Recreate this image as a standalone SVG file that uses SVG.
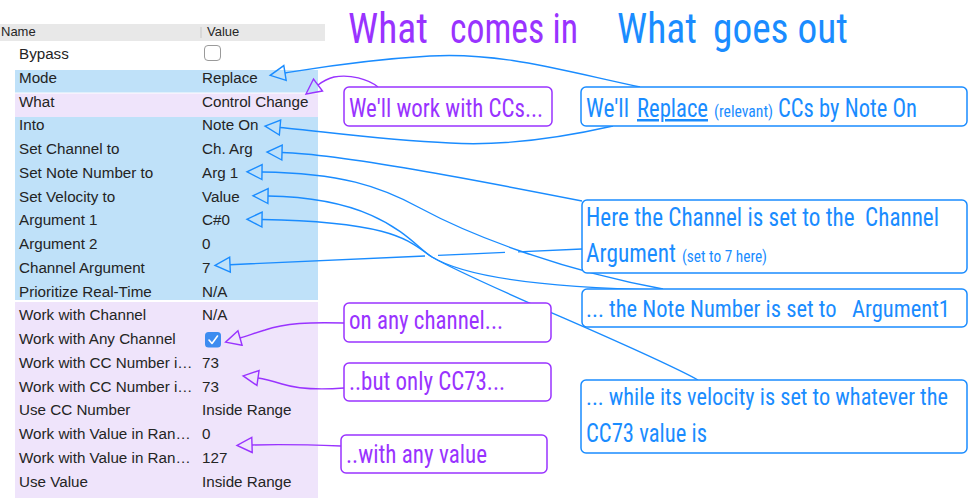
<svg xmlns="http://www.w3.org/2000/svg" width="968" height="500" viewBox="0 0 968 500">
<style>
.tn{font-family:"Liberation Sans",Arial,sans-serif;font-size:15.2px;fill:#242424}
.th{font-family:"Liberation Sans",Arial,sans-serif;font-size:13px;fill:#262626}
.cf{font-family:"Liberation Sans Narrow","Roboto Condensed","DejaVu Sans Condensed","DejaVu Sans",sans-serif;font-stretch:condensed}
.cb{fill:#1a8cff}
.cp{fill:#9933ff}
.bb{fill:#fff;stroke:#1a8cff;stroke-width:1.5}
.bp{fill:#fff;stroke:#9933ff;stroke-width:1.5}
.lb{fill:none;stroke:#1a8cff;stroke-width:1.4}
.lp{fill:none;stroke:#9933ff;stroke-width:1.4}
</style>
<defs>
<marker id="ab" markerUnits="userSpaceOnUse" markerWidth="24" markerHeight="24" viewBox="-2 -12 24 24" refX="0" refY="0" orient="auto" overflow="visible"><path d="M0,-7.5 L15,0 L0,7.5 Z" fill="none" stroke="#1a8cff" stroke-width="1.4"/></marker>
<marker id="ap" markerUnits="userSpaceOnUse" markerWidth="24" markerHeight="24" viewBox="-2 -12 24 24" refX="0" refY="0" orient="auto" overflow="visible"><path d="M0,-7.5 L15,0 L0,7.5 Z" fill="none" stroke="#9933ff" stroke-width="1.4"/></marker>
</defs>
<rect width="968" height="500" fill="#fff"/>

<g id="table">
<rect x="0" y="24" width="325" height="17" fill="#e8e8e8"/>
<line x1="201" y1="27" x2="201" y2="38" stroke="#c8c8c8" stroke-width="1"/>
<text class="th" x="1" y="36">Name</text>
<text class="th" x="207" y="36">Value</text>
<rect x="15" y="70" width="303" height="22.5" fill="#bfe1f9"/>
<rect x="15" y="93.5" width="303" height="23.5" fill="#efe4fb"/>
<rect x="15" y="117" width="303" height="183" fill="#bfe1f9"/>
<rect x="15" y="302" width="303" height="196" fill="#efe4fb"/>
<rect x="204.5" y="45.5" width="16" height="15" rx="3.5" fill="#fff" stroke="#9a9a9a" stroke-width="1"/>
<rect x="205" y="332" width="16" height="15.5" rx="3.5" fill="#3d8cf0"/>
<path d="M209,340 L212,343.5 L217.5,336" fill="none" stroke="#fff" stroke-width="1.6" stroke-linecap="round" stroke-linejoin="round"/>
<text class="tn" x="19" y="59">Bypass</text>
<text class="tn" x="19" y="82.75">Mode</text><text class="tn" x="202" y="82.75">Replace</text>
<text class="tn" x="19" y="106.5">What</text><text class="tn" x="202" y="106.5">Control Change</text>
<text class="tn" x="19" y="130.25">Into</text><text class="tn" x="202" y="130.25">Note On</text>
<text class="tn" x="19" y="154">Set Channel to</text><text class="tn" x="202" y="154">Ch. Arg</text>
<text class="tn" x="19" y="177.75">Set Note Number to</text><text class="tn" x="202" y="177.75">Arg 1</text>
<text class="tn" x="19" y="201.5">Set Velocity to</text><text class="tn" x="202" y="201.5">Value</text>
<text class="tn" x="19" y="225.25">Argument 1</text><text class="tn" x="202" y="225.25">C#0</text>
<text class="tn" x="19" y="249">Argument 2</text><text class="tn" x="202" y="249">0</text>
<text class="tn" x="19" y="272.75">Channel Argument</text><text class="tn" x="202" y="272.75">7</text>
<text class="tn" x="19" y="296.5">Prioritize Real-Time</text><text class="tn" x="202" y="296.5">N/A</text>
<text class="tn" x="19" y="320.25">Work with Channel</text><text class="tn" x="202" y="320.25">N/A</text>
<text class="tn" x="19" y="344">Work with Any Channel</text>
<text class="tn" x="19" y="367.75">Work with CC Number i…</text><text class="tn" x="202" y="367.75">73</text>
<text class="tn" x="19" y="391.5">Work with CC Number i…</text><text class="tn" x="202" y="391.5">73</text>
<text class="tn" x="19" y="415.25">Use CC Number</text><text class="tn" x="202" y="415.25">Inside Range</text>
<text class="tn" x="19" y="439">Work with Value in Ran…</text><text class="tn" x="202" y="439">0</text>
<text class="tn" x="19" y="462.75">Work with Value in Ran…</text><text class="tn" x="202" y="462.75">127</text>
<text class="tn" x="19" y="486.5">Use Value</text><text class="tn" x="202" y="486.5">Inside Range</text>
</g>

<g id="titles">
<text class="cf cp" x="348" y="43" font-size="42" textLength="80" lengthAdjust="spacingAndGlyphs">What</text>
<text class="cf cp" x="450" y="43" font-size="42" textLength="128" lengthAdjust="spacingAndGlyphs">comes in</text>
<text class="cf cb" x="617" y="43" font-size="42" textLength="80" lengthAdjust="spacingAndGlyphs">What</text>
<text class="cf cb" x="713" y="43" font-size="42" textLength="135" lengthAdjust="spacingAndGlyphs">goes out</text>
</g>

<g id="connectors">
<path class="lb" marker-end="url(#ab)" d="M640,87 C560,70 500,52 430,56 C360,60 310,69 285,73"/>
<path class="lb" marker-end="url(#ab)" d="M613,126 C560,138 500,146 450,143 C380,140 320,131 280,127.5"/>
<path class="lb" marker-end="url(#ab)" d="M582,201 C480,181 340,154 282,152.5"/>
<path class="lb" marker-end="url(#ab)" d="M663,289 C560,270 470,235 420,208 C380,186 340,173 262,172"/>
<path class="lb" marker-end="url(#ab)" d="M663,290 C560,288 470,280 432,257 C410,243 400,222 262,219.5"/>
<path class="lb" marker-end="url(#ab)" d="M698,380 C640,348 480,285 432,257 C412,245 385,198 268,196"/>
<path class="lb" marker-end="url(#ab)" d="M582,249 L518,251.9 M505,252.4 L438,255.4 M425,256 L230,264.7"/>
<path class="lp" marker-end="url(#ap)" d="M378,87 C368,79 350,74 334,77 C326,79 322,82 318,85"/>
<path class="lp" marker-end="url(#ap)" d="M344,323 C310,322 285,323 265,330 C255,333 247,336 240,338"/>
<path class="lp" marker-end="url(#ap)" d="M344,388 C318,390 298,389 282,384 C272,381 265,379 258,378"/>
<path class="lp" marker-end="url(#ap)" d="M341,446 C315,445 285,444 252,445"/>
</g>

<g id="c-work-ccs">
<rect class="bp" x="344" y="87" width="208" height="39" rx="5"/>
<text class="cf cp" x="349" y="117" font-size="25" textLength="194" lengthAdjust="spacingAndGlyphs">We'll work with CCs...</text>
</g>
<g id="c-replace">
<rect class="bb" x="581" y="87" width="386" height="39" rx="5"/>
<text class="cf cb" x="586" y="117" font-size="25" textLength="43" lengthAdjust="spacingAndGlyphs">We'll</text>
<text class="cf cb" x="637" y="117" font-size="25" textLength="71" lengthAdjust="spacingAndGlyphs" text-decoration="underline">Replace</text>
<text class="cf cb" x="714" y="117" font-size="16" textLength="59" lengthAdjust="spacingAndGlyphs">(relevant)</text>
<text class="cf cb" x="778" y="117" font-size="25" textLength="139" lengthAdjust="spacingAndGlyphs">CCs by Note On</text>
</g>
<g id="c-channel">
<rect class="bb" x="582" y="200" width="385" height="73" rx="5"/>
<text class="cf cb" x="586" y="226" font-size="25" xml:space="preserve" textLength="353" lengthAdjust="spacingAndGlyphs">Here the Channel is set to the  Channel</text>
<text class="cf cb" x="586" y="262" font-size="25" textLength="90" lengthAdjust="spacingAndGlyphs">Argument</text>
<text class="cf cb" x="682" y="262" font-size="16" textLength="85" lengthAdjust="spacingAndGlyphs">(set to 7 here)</text>
</g>
<g id="c-note">
<rect class="bb" x="582" y="289" width="385" height="38" rx="5"/>
<text class="cf cb" x="586" y="317" font-size="23" xml:space="preserve" textLength="364" lengthAdjust="spacingAndGlyphs">... the Note Number is set to   Argument1</text>
</g>
<g id="c-velocity">
<rect class="bb" x="581" y="380" width="386" height="73" rx="5"/>
<text class="cf cb" x="586" y="405" font-size="23" textLength="362" lengthAdjust="spacingAndGlyphs">... while its velocity is set to whatever the</text>
<text class="cf cb" x="586" y="442" font-size="25" textLength="121" lengthAdjust="spacingAndGlyphs">CC73 value is</text>
</g>
<g id="c-any-channel">
<rect class="bp" x="344" y="303" width="207" height="39" rx="5"/>
<text class="cf cp" x="349" y="329" font-size="25" textLength="154" lengthAdjust="spacingAndGlyphs">on any channel...</text>
</g>
<g id="c-cc73">
<rect class="bp" x="344" y="363" width="207" height="38" rx="5"/>
<text class="cf cp" x="349" y="390" font-size="25" textLength="156" lengthAdjust="spacingAndGlyphs">..but only CC73...</text>
</g>
<g id="c-any-value">
<rect class="bp" x="341" y="435" width="206" height="38" rx="5"/>
<text class="cf cp" x="346" y="463" font-size="25" textLength="141" lengthAdjust="spacingAndGlyphs">..with any value</text>
</g>
</svg>
